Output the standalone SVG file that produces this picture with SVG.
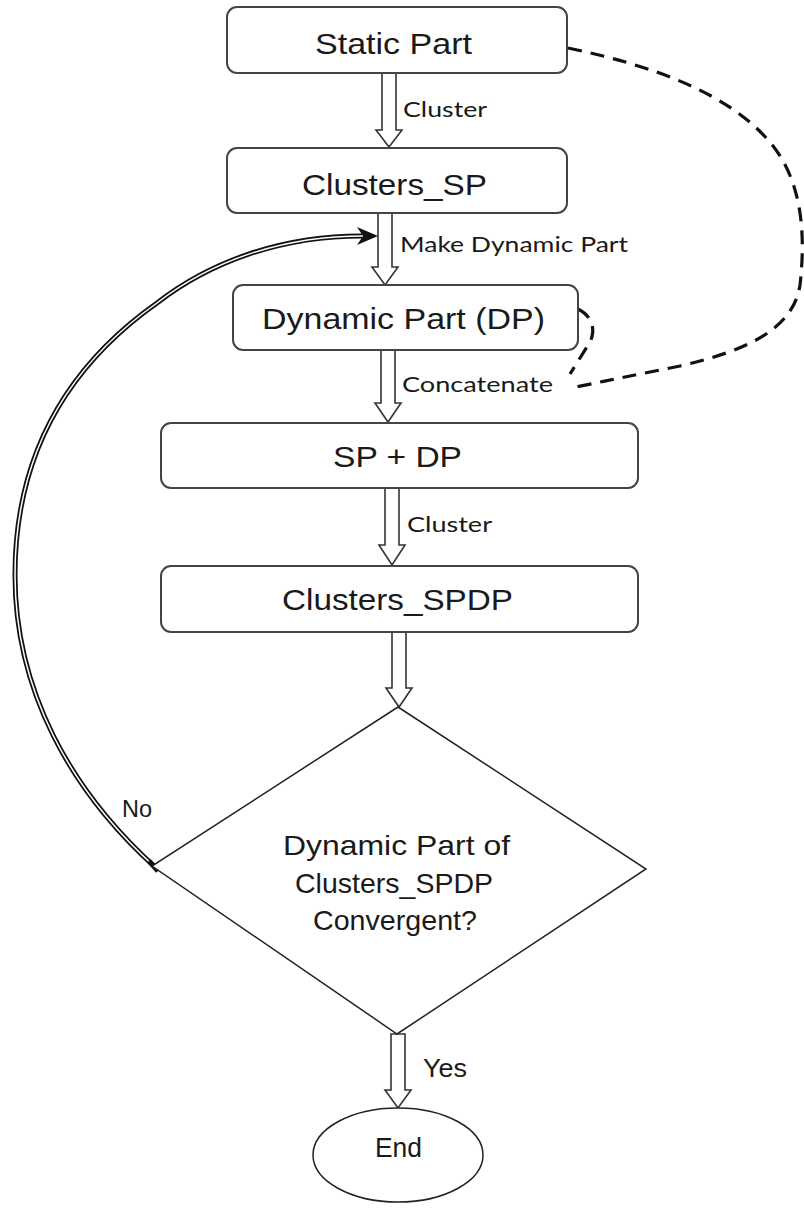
<svg xmlns="http://www.w3.org/2000/svg" width="804" height="1211" viewBox="0 0 804 1211">
<style>
.box{fill:#fff;stroke:#444;stroke-width:2}
.shape{fill:#fff;stroke:#222;stroke-width:1.5}
.t{font-family:"Liberation Sans",Arial,sans-serif;fill:#1a1a1a}
.lbl{font-family:Lato,"Open Sans",sans-serif;fill:#1a1a1a;font-size:22px}
.hollow{fill:#fff;stroke:#333;stroke-width:1.6;stroke-linejoin:miter}
.dash{fill:none;stroke:#111;stroke-width:3.2;stroke-dasharray:14 9}
</style>
<rect width="804" height="1211" fill="#fff"/>
<g id="connectors">
  <polygon class="hollow" points="382,73 382,130 376,130 389,147 402,130 396,130 396,73"/>
  <polygon class="hollow" points="378,213 378,267 372,267 385,285 398,267 392,267 392,213"/>
  <polygon class="hollow" points="381,350 381,403 375,403 388,422 401,403 395,403 395,350"/>
  <polygon class="hollow" points="385,488 385,545 379,545 392,565 405,545 399,545 399,488"/>
  <polygon class="hollow" points="392,632 392,688 386,688 399,707 412,688 406,688 406,632"/>
  <polygon class="hollow" points="391,1034 391,1090 385,1090 398,1108 411,1090 405,1090 405,1034"/>
  <path class="dash" d="M568,48 C655,66 728,94 768,140 C802,178 806,232 800,285 C793,332 740,352 680,366 C640,374 610,380 576,387"/>
  <path class="dash" d="M578,309 C590,315 597,327 590,342 L570,374"/>
  <path d="M155,867 C70,790 15,690 15,575 C15,470 55,375 157,303 C210,262 280,236 362,236" fill="none" stroke="#111" stroke-width="5"/>
  <path d="M155,867 C70,790 15,690 15,575 C15,470 55,375 157,303 C210,262 280,236 364,236" fill="none" stroke="#fff" stroke-width="1.5"/>
  <polygon points="378,236 357,227 363,236 357,245" fill="#111"/>
  <line x1="149" y1="861" x2="158" y2="871" stroke="#111" stroke-width="5"/>
  <text class="lbl" x="403" y="117" textLength="84" lengthAdjust="spacingAndGlyphs">Cluster</text>
  <text class="lbl" x="400" y="252" textLength="228" lengthAdjust="spacingAndGlyphs">Make Dynamic Part</text>
  <text class="lbl" x="402" y="392" textLength="151" lengthAdjust="spacingAndGlyphs">Concatenate</text>
  <text class="lbl" x="407" y="532" textLength="85" lengthAdjust="spacingAndGlyphs">Cluster</text>
  <text class="t" x="122" y="817" font-size="24" textLength="30" lengthAdjust="spacingAndGlyphs">No</text>
  <text class="t" x="423" y="1077" font-size="25" textLength="44" lengthAdjust="spacingAndGlyphs">Yes</text>
</g>
<g id="static-part">
  <rect class="box" x="227" y="7" width="340" height="66" rx="10"/>
  <text class="t" x="315" y="54" font-size="30" textLength="157" lengthAdjust="spacingAndGlyphs">Static Part</text>
</g>
<g id="clusters-sp">
  <rect class="box" x="227" y="148" width="340" height="65" rx="10"/>
  <text class="t" x="302" y="195" font-size="30" textLength="185" lengthAdjust="spacingAndGlyphs">Clusters_SP</text>
</g>
<g id="dynamic-part">
  <rect class="box" x="233" y="285" width="345" height="65" rx="10"/>
  <text class="t" x="262" y="329" font-size="30" textLength="283" lengthAdjust="spacingAndGlyphs">Dynamic Part (DP)</text>
</g>
<g id="sp-dp">
  <rect class="box" x="161" y="423" width="477" height="65" rx="10"/>
  <text class="t" x="333" y="467" font-size="30" textLength="129" lengthAdjust="spacingAndGlyphs">SP + DP</text>
</g>
<g id="clusters-spdp">
  <rect class="box" x="161" y="566" width="477" height="66" rx="10"/>
  <text class="t" x="282" y="610" font-size="30" textLength="231" lengthAdjust="spacingAndGlyphs">Clusters_SPDP</text>
</g>
<g id="decision">
  <polygon class="shape" points="398,707 646,869 397,1034 152,866"/>
  <text class="t" x="283" y="855" font-size="28" textLength="227" lengthAdjust="spacingAndGlyphs">Dynamic Part of</text>
  <text class="t" x="295" y="893" font-size="28" textLength="198" lengthAdjust="spacingAndGlyphs">Clusters_SPDP</text>
  <text class="t" x="313" y="930" font-size="28" textLength="164" lengthAdjust="spacingAndGlyphs">Convergent?</text>
</g>
<g id="end">
  <ellipse class="shape" cx="398" cy="1155" rx="85" ry="47"/>
  <text class="t" x="375" y="1157" font-size="28" textLength="47" lengthAdjust="spacingAndGlyphs">End</text>
</g>
</svg>
